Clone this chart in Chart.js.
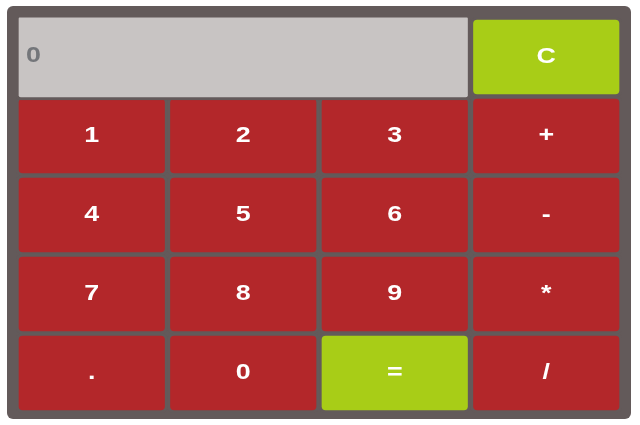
<!DOCTYPE html>
<html lang="en">
<head>
    <meta charset="UTF-8">
    <title>Calculator</title>
    <style>
        body {
            margin: 0;
            background-color: #ffffff;
        }
        #wrap {
            width: 640px;
            height: 425px;
        }
    </style>
    <script src="https://cdn.jsdelivr.net/npm/chart.js"></script>
</head>
<body>
    <div id="wrap"><canvas id="calcChart"></canvas></div>

    <script>
        // rows of the keypad (first row is the display row)
        const rows = ['display', 'r1', 'r2', 'r3', 'r4'];
        const columns = [0, 1, 2, 3];

        // key labels, one list per column, top to bottom
        const col1Keys = ['', '1', '4', '7', '.'];
        const col2Keys = ['', '2', '5', '8', '0'];
        const col3Keys = ['', '3', '6', '9', '='];
        const col4Keys = ['C', '+', '-', '*', '/'];
        const displayText = '0';

        const panelColor = '#635a5a';
        const keyRed = '#b3272a';
        const keyGreen = '#a8cd17';
        const displayColor = '#c8c4c3';

        const keyCols = [col1Keys, col2Keys, col3Keys, col4Keys];

        function keyColor(label) {
            return (label === 'C' || label === '=') ? keyGreen : keyRed;
        }

        // one floating-bar dataset per column; the display row of columns 1-3 is left empty
        const datasets = keyCols.map((keys, c) => ({
            label: 'col' + (c + 1),
            data: keys.map((k, r) => k === '' ? null : [columns[c], columns[c] + 1]),
            keys: keys,
            backgroundColor: keys.map(k => keyColor(k)),
            borderColor: panelColor,
            borderWidth: 3,
            borderSkipped: false,
            borderRadius: 7,
            barThickness: 80,
            grouped: false
        }));

        // display spans the first three columns
        datasets.unshift({
            label: 'display',
            data: rows.map((r, i) => i === 0 ? [columns[0], columns[3]] : null),
            keys: [],
            backgroundColor: displayColor,
            borderColor: panelColor,
            borderWidth: 3,
            borderSkipped: false,
            borderRadius: 5,
            barThickness: 86,
            grouped: false
        });

        const panelPlugin = {
            id: 'panel',
            beforeDraw(chart) {
                const { ctx, chartArea } = chart;
                ctx.save();
                ctx.fillStyle = panelColor;
                ctx.beginPath();
                ctx.roundRect(chartArea.left - 9, chartArea.top - 11.5,
                    chartArea.width + 18, chartArea.height + 18, 6);
                ctx.fill();
                ctx.restore();
            }
        };

        // labels are a little wider than the plain font, so stretch them sideways
        function drawStretched(ctx, text, x, y, align) {
            ctx.save();
            ctx.translate(x, y);
            ctx.scale(1.22, 1);
            ctx.textAlign = align;
            ctx.fillText(text, 0, 0);
            ctx.restore();
        }

        const labelPlugin = {
            id: 'keyLabels',
            afterDatasetsDraw(chart) {
                const { ctx } = chart;
                ctx.save();
                ctx.font = 'bold 22px "Liberation Sans", Arial, sans-serif';
                ctx.textBaseline = 'middle';
                chart.data.datasets.forEach((ds, i) => {
                    const meta = chart.getDatasetMeta(i);
                    meta.data.forEach((bar, j) => {
                        if (ds.data[j] === null) return;
                        if (ds.label === 'display') {
                            ctx.fillStyle = '#74767a';
                            drawStretched(ctx, displayText, bar.base + 10, bar.y - 1, 'left');
                        } else {
                            ctx.fillStyle = '#ffffff';
                            drawStretched(ctx, ds.keys[j], (bar.x + bar.base) / 2, bar.y, 'center');
                        }
                    });
                });
                ctx.restore();
            }
        };

        const ctx = document.getElementById('calcChart').getContext('2d');
        const calcChart = new Chart(ctx, {
            type: 'bar',
            data: {
                labels: rows,
                datasets: datasets
            },
            options: {
                indexAxis: 'y',
                responsive: true,
                maintainAspectRatio: false,
                animation: false,
                layout: {
                    padding: { left: 16, right: 18, top: 17.5, bottom: 12.5 }
                },
                scales: {
                    x: {
                        type: 'linear',
                        min: 0,
                        max: 4,
                        display: false
                    },
                    y: {
                        type: 'category',
                        display: false
                    }
                },
                plugins: {
                    legend: { display: false },
                    tooltip: { enabled: false }
                }
            },
            plugins: [panelPlugin, labelPlugin]
        });
    </script>
</body>
</html>
